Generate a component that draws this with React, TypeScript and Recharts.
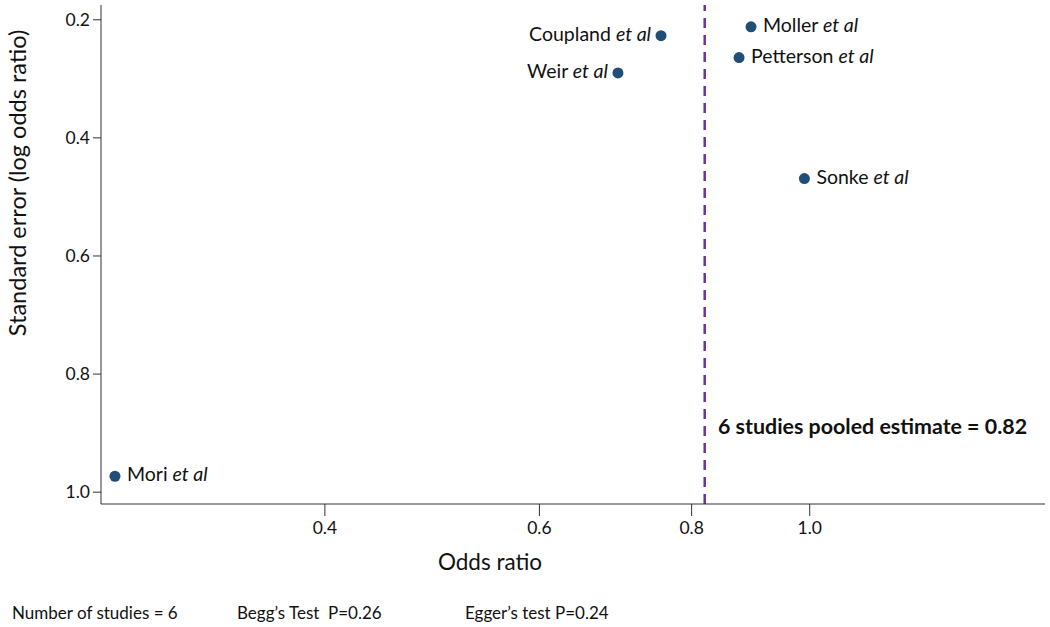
import { ScatterChart, Scatter, XAxis, YAxis, ReferenceLine } from "recharts";

// ── Data ──
const studies = ["Coupland", "Weir", "Moller", "Petterson", "Sonke", "Mori"];
const oddsRatios = [0.755, 0.696, 0.895, 0.875, 0.99, 0.269];
const standardErrors = [0.227, 0.29, 0.212, 0.264, 0.469, 0.973];
const labelSides = ["left", "left", "right", "right", "right", "right"];
const pooledEstimate = 0.82;
const xTicks = [0.4, 0.6, 0.8, 1.0];
const yTicks = [0.2, 0.4, 0.6, 0.8, 1.0];
const footerNotes = ["Number of studies = 6", "Begg\u2019s Test  P=0.26", "Egger\u2019s test P=0.24"];

const points = studies.map((name, i) => ({
  name,
  or: oddsRatios[i],
  se: standardErrors[i],
  side: labelSides[i],
}));

const FONT = "Lato, 'Open Sans', sans-serif";
const DOT = "#1f4e79";
const AXIS = "#333";

// dot + study label drawn at the scaled position
const StudyDot = (props: any) => {
  const { cx, cy, payload } = props;
  const left = payload.side === "left";
  return (
    <g>
      <circle cx={cx} cy={cy} r={5.5} fill={DOT} />
      <text
        x={left ? cx - 10 : cx + 12}
        y={cy}
        dy={5}
        textAnchor={left ? "end" : "start"}
        fontSize={19.5}
        fontFamily={FONT}
        fill="#111"
        style={{ whiteSpace: "pre" }}
      >
        {payload.name + " "}
        <tspan fontStyle="italic">et al</tspan>
      </text>
    </g>
  );
};

export default function App() {
  return (
    <div style={{ position: "absolute", left: 0, top: 0, width: 1050, height: 627, background: "#fff" }}>
      <ScatterChart width={1050} height={627} margin={{ top: 5, right: 5, bottom: 0, left: 0 }}>
        <XAxis
          type="number"
          dataKey="or"
          scale="log"
          domain={[0.262, 1.56]}
          allowDataOverflow
          ticks={xTicks}
          tickFormatter={(v: number) => v.toFixed(1)}
          height={123}
          tickSize={12}
          tickMargin={6}
          stroke={AXIS}
          tick={{ fontSize: 17.5, fill: "#111", fontFamily: FONT }}
        />
        <YAxis
          type="number"
          dataKey="se"
          reversed
          domain={[0.175, 1.02]}
          allowDataOverflow
          ticks={yTicks}
          tickFormatter={(v: number) => v.toFixed(1)}
          width={101}
          tickSize={8}
          tickMargin={3}
          stroke={AXIS}
          tick={{ fontSize: 17.5, fill: "#111", fontFamily: FONT }}
        />
        <ReferenceLine x={pooledEstimate} stroke="#7030a0" strokeWidth={2.5} strokeDasharray="10 7" />
        <Scatter data={points} shape={StudyDot} isAnimationActive={false} />
      </ScatterChart>

      {/* titles & notes */}
      <svg width={1050} height={627} style={{ position: "absolute", left: 0, top: 0, pointerEvents: "none" }}>
        <text
          x={0}
          y={0}
          transform="translate(26 183) rotate(-90)"
          textAnchor="middle"
          fontSize={23.5}
          fontFamily={FONT}
          fill="#111"
        >
          Standard error (log odds ratio)
        </text>
        <text x={490} y={570} textAnchor="middle" fontSize={22.5} fontFamily={FONT} fill="#111">
          Odds ratio
        </text>
        <text x={718} y={434} fontSize={21.4} fontWeight="bold" fontFamily={FONT} fill="#111">
          6 studies pooled estimate = {pooledEstimate.toFixed(2)}
        </text>
        {footerNotes.map((note, i) => (
          <text
            key={note}
            x={[12, 237, 465][i]}
            y={619}
            fontSize={17}
            fontFamily={FONT}
            fill="#111"
            style={{ whiteSpace: "pre" }}
          >
            {note}
          </text>
        ))}
      </svg>
    </div>
  );
}
